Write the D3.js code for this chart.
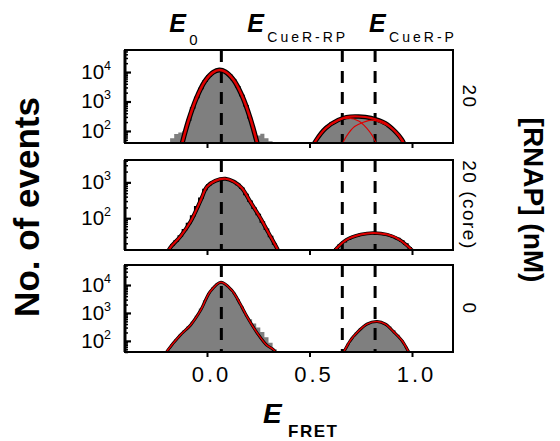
<!DOCTYPE html>
<html>
<head>
<meta charset="utf-8">
<script src="https://cdnjs.cloudflare.com/ajax/libs/d3/7.8.5/d3.min.js"></script>
<style>
body { margin: 0; background: #fff; }
svg { display: block; }
text { font-family: "Liberation Sans", Arial, sans-serif; fill: #000; }
</style>
</head>
<body>
<svg id="chart" width="560" height="441"></svg>
<script>
// histogram bin centres (E_FRET), bin width 0.02
const binWidth = 0.02;
const eBins = [-0.19,-0.17,-0.15,-0.13,-0.11,-0.09,-0.07,-0.05,-0.03,-0.01,
    0.01,0.03,0.05,0.07,0.09,0.11,0.13,0.15,0.17,0.19,
    0.21,0.23,0.25,0.27,0.29,0.31,0.33,0.35,0.37,0.39,
    0.41,0.43,0.45,0.47,0.49,0.51,0.53,0.55,0.57,0.59,
    0.61,0.63,0.65,0.67,0.69,0.71,0.73,0.75,0.77,0.79,
    0.81,0.83,0.85,0.87,0.89,0.91,0.93,0.95,0.97,0.99,1.01];

// number of events per bin, one list per [RNAP]
const counts20 = [0,56,79,89,100,230,600,1380,2780,4870,
    7400,9800,11500,11600,10200,7900,5350,3150,1610,720,
    280,100,70,80,56,45,0,0,0,0,
    0,0,0,0,0,0,46,71,110,148,
    182,214,251,288,309,309,302,295,295,282,
    263,234,204,174,141,107,76,51,0,0,0];
const counts20core = [0,18,23,32,48,71,115,209,363,631,
    851,1020,1150,1230,1260,1175,1050,870,690,457,
    295,190,126,79,49,31,19,0,0,0,
    0,0,0,0,0,0,0,0,0,0,
    0,14,18,22,26,30,32,35,37,38,
    39,39,37,35,33,30,27,23,19,15,0];
const counts0 = [47,76,115,166,240,331,479,794,1445,2820,
    5130,8320,11200,12600,10700,7760,5250,3160,1700,851,
    600,420,300,210,135,85,50,0,0,0,
    0,0,0,0,0,0,0,0,0,0,
    0,0,0,46,81,132,200,282,363,436,
    479,490,457,398,324,240,166,105,62,42,0];

// fitted curves
const fit20aE = [-0.13,-0.09,-0.05,-0.01,0.03,0.06,0.09,0.13,0.17,0.21,0.25];
const fit20aN = [22,229,1380,4900,9800,11750,10200,5370,1620,282,28];
const fit20bE = [0.51,0.53,0.58,0.64,0.68,0.74,0.80,0.87,0.92,0.95,0.97];
const fit20bN = [25,46,126,234,295,309,275,182,93,52,28];
const fit20rpE = [0.51,0.53,0.58,0.64,0.69,0.74,0.78,0.805,0.82,0.84];
const fit20rpN = [25,44,117,224,269,219,123,72,46,25];
const fit20pE = [0.65,0.667,0.69,0.72,0.76,0.805,0.85,0.895,0.93,0.95,0.97];
const fit20pN = [25,46,83,141,195,234,190,130,75,45,25];
const fitCoreAE = [-0.20,-0.18,-0.13,-0.08,-0.03,0.00,0.04,0.09,0.13,0.17,0.21,0.26,0.30,0.34,0.36];
const fitCoreAN = [9,15,31,81,324,759,1100,1260,1050,692,295,102,39,15,9];
const fitCoreBE = [0.61,0.63,0.68,0.75,0.81,0.88,0.94,1.00,1.02];
const fitCoreBN = [10,14,25,35,39,35,25,13,10];
const fit0aE = [-0.21,-0.19,-0.13,-0.08,-0.03,0.015,0.068,0.12,0.16,0.195,0.245,0.29,0.325,0.35];
const fit0aN = [28,48,162,372,1290,5750,12600,6610,2240,741,191,72,48,28];
const fit0bE = [0.65,0.667,0.70,0.73,0.78,0.83,0.87,0.91,0.95,0.984,1.0];
const fit0bN = [23,40,105,191,398,490,398,214,105,40,23];

const panelLabels = ["20", "20 (core)", "0"];
const yLow = [39, 13, 40];
const yHigh = [56000, 4200, 52000];
const yTicks = [[100, 1000, 10000], [100, 1000], [100, 1000, 10000]];
const xTicks = [0, 0.5, 1.0];
const ePeaks = [0.07, 0.66, 0.82];
const peakNames = ["0", "CueR-RP", "CueR-P"];

const zip = (a, b) => a.map((v, i) => [v, b[i]]);

let svg = d3.select("#chart");
let x = d3.scaleLinear().domain([-0.4, 1.2]).range([125, 453]);

// outlineMin: bins below this count get no black edge (the noisy tails)
let panels = [
    {top: 50, bottom: 143, counts: counts20, outline: 1.5, outlineMin: 120,
     fits: [
        {pts: zip(fit20aE, fit20aN), w: 2.6, under: 5},
        {pts: zip(fit20rpE, fit20rpN), w: 1.1, under: 0},
        {pts: zip(fit20pE, fit20pN), w: 1.1, under: 0},
        {pts: zip(fit20bE, fit20bN), w: 2.2, under: 4.5}]},
    {top: 160, bottom: 250, counts: counts20core, outline: 1.5, outlineMin: 0,
     fits: [
        {pts: zip(fitCoreAE, fitCoreAN), w: 2.2, under: 4},
        {pts: zip(fitCoreBE, fitCoreBN), w: 2, under: 3.5}]},
    {top: 265, bottom: 352, counts: counts0, outline: 0, outlineMin: 0,
     fits: [
        {pts: zip(fit0aE, fit0aN), w: 1.5, under: 3},
        {pts: zip(fit0bE, fit0bN), w: 1.5, under: 3}]}
];

function histSegments(counts, minCount) {
    let segs = [], cur = null;
    counts.forEach((c, i) => {
        if (c > minCount) {
            if (!cur) { cur = []; segs.push(cur); }
            cur.push([eBins[i] - binWidth / 2, c]);
        } else {
            cur = null;
        }
    });
    segs.forEach(s => { let last = s[s.length - 1]; s.push([last[0] + binWidth, last[1]]); });
    return segs;
}

panels.forEach((p, k) => {
    let y = d3.scaleLog().domain([yLow[k], yHigh[k]]).range([p.bottom, p.top]);
    let g = svg.append("g");

    g.append("clipPath").attr("id", "clip" + k)
        .append("rect")
        .attr("x", x.range()[0]).attr("y", p.top)
        .attr("width", x.range()[1] - x.range()[0])
        .attr("height", p.bottom - p.top);

    let plot = g.append("g").attr("clip-path", "url(#clip" + k + ")");

    // histogram
    let area = d3.area()
        .x(d => x(d[0]))
        .y0(p.bottom)
        .y1(d => y(d[1]))
        .curve(d3.curveStepAfter);
    let stepLine = d3.line()
        .x(d => x(d[0]))
        .y(d => y(d[1]))
        .curve(d3.curveStepAfter);
    histSegments(p.counts, 0).forEach(s => {
        plot.append("path").attr("d", area(s)).attr("fill", "#7f7f7f");
    });
    if (p.outline > 0) {
        histSegments(p.counts, p.outlineMin).forEach(s => {
            plot.append("path").attr("d", stepLine(s))
                .attr("fill", "none").attr("stroke", "#000")
                .attr("stroke-width", p.outline);
        });
    }

    // dashed lines at the FRET states
    ePeaks.forEach(e => {
        plot.append("line")
            .attr("x1", x(e)).attr("x2", x(e))
            .attr("y1", p.top).attr("y2", p.bottom)
            .attr("stroke", "#000").attr("stroke-width", 3)
            .attr("stroke-dasharray", "12,9");
    });

    // fits
    let fitLine = d3.line()
        .x(d => x(d[0]))
        .y(d => y(d[1]))
        .curve(d3.curveCatmullRom.alpha(0.5));
    p.fits.forEach(f => {
        if (f.under > 0) {
            plot.append("path").attr("d", fitLine(f.pts))
                .attr("fill", "none").attr("stroke", "#000")
                .attr("stroke-width", f.under);
        }
    });
    p.fits.forEach(f => {
        plot.append("path").attr("d", fitLine(f.pts))
            .attr("fill", "none").attr("stroke", "#e00000")
            .attr("stroke-width", f.w);
    });

    // y axis: major and minor ticks pointing inward
    let minor = y.ticks().filter(t => yTicks[k].indexOf(t) < 0);
    g.append("g")
        .attr("transform", "translate(" + x.range()[0] + ",0)")
        .call(d3.axisLeft(y).tickValues(minor).tickSize(-3).tickFormat(""))
        .call(a => a.select(".domain").remove())
        .selectAll("line").attr("stroke-width", 1.5);
    g.append("g")
        .attr("transform", "translate(" + x.range()[0] + ",0)")
        .call(d3.axisLeft(y).tickValues(yTicks[k]).tickSize(-6).tickFormat(""))
        .call(a => a.select(".domain").remove())
        .selectAll("line").attr("stroke-width", 2.2);

    yTicks[k].forEach(t => {
        let lab = g.append("text")
            .attr("x", 111).attr("y", y(t) + 7)
            .attr("text-anchor", "end")
            .style("font-size", "20.5px");
        lab.append("tspan").text("10");
        lab.append("tspan").attr("dy", -9).style("font-size", "12.5px")
            .text(Math.round(Math.log10(t)));
    });

    // x ticks pointing outward
    let xa = g.append("g")
        .attr("transform", "translate(0," + p.bottom + ")")
        .call(d3.axisBottom(x).tickValues(xTicks).tickSize(5)
            .tickFormat(k === 2 ? d3.format(".1f") : ""));
    xa.select(".domain").remove();
    xa.selectAll("line").attr("stroke-width", 2);
    xa.selectAll("text")
        .attr("dy", "0")
        .attr("y", 30)
        .attr("x", 4)
        .style("font-size", "22px")
        .style("letter-spacing", "3px")
        .style("font-family", "'Liberation Sans', Arial, sans-serif");

    // frame
    g.append("rect")
        .attr("x", x.range()[0]).attr("y", p.top)
        .attr("width", x.range()[1] - x.range()[0])
        .attr("height", p.bottom - p.top)
        .attr("fill", "none").attr("stroke", "#000").attr("stroke-width", 2);
    g.append("line")
        .attr("x1", x.range()[0]).attr("x2", x.range()[0])
        .attr("y1", p.top).attr("y2", p.bottom)
        .attr("stroke", "#000").attr("stroke-width", 3);

    // [RNAP] label on the right
    let cy = (p.top + p.bottom) / 2;
    svg.append("text")
        .attr("transform", "translate(463," + cy + ") rotate(90)")
        .attr("text-anchor", "middle")
        .style("font-size", "19px")
        .style("letter-spacing", "1.5px")
        .text(panelLabels[k]);
});

// state labels above the top panel
let labelOffsets = [-52, -95, -6];
ePeaks.forEach((e, i) => {
    let x0 = x(e) + labelOffsets[i];
    svg.append("text")
        .attr("x", x0).attr("y", 32)
        .style("font-size", "25px").style("font-weight", "bold").style("font-style", "italic")
        .text("E");
    svg.append("text")
        .attr("x", x0 + 20).attr("y", i === 0 ? 45 : 42)
        .style("font-size", i === 0 ? "15px" : "14px")
        .style("letter-spacing", i === 0 ? "0px" : "3px")
        .text(peakNames[i]);
});

// axis titles
svg.append("text")
    .attr("x", 263).attr("y", 423)
    .style("font-size", "28px").style("font-weight", "bold").style("font-style", "italic")
    .text("E");
svg.append("text")
    .attr("x", 288).attr("y", 437)
    .style("font-size", "17px").style("font-weight", "bold").style("letter-spacing", "1.5px")
    .text("FRET");

svg.append("text")
    .attr("transform", "translate(39,207) rotate(-90)")
    .attr("text-anchor", "middle")
    .style("font-size", "35px").style("font-weight", "bold")
    .text("No. of events");

svg.append("text")
    .attr("transform", "translate(524,200) rotate(90)")
    .attr("text-anchor", "middle")
    .style("font-size", "28px").style("font-weight", "bold")
    .text("[RNAP] (nM)");
</script>
</body>
</html>
